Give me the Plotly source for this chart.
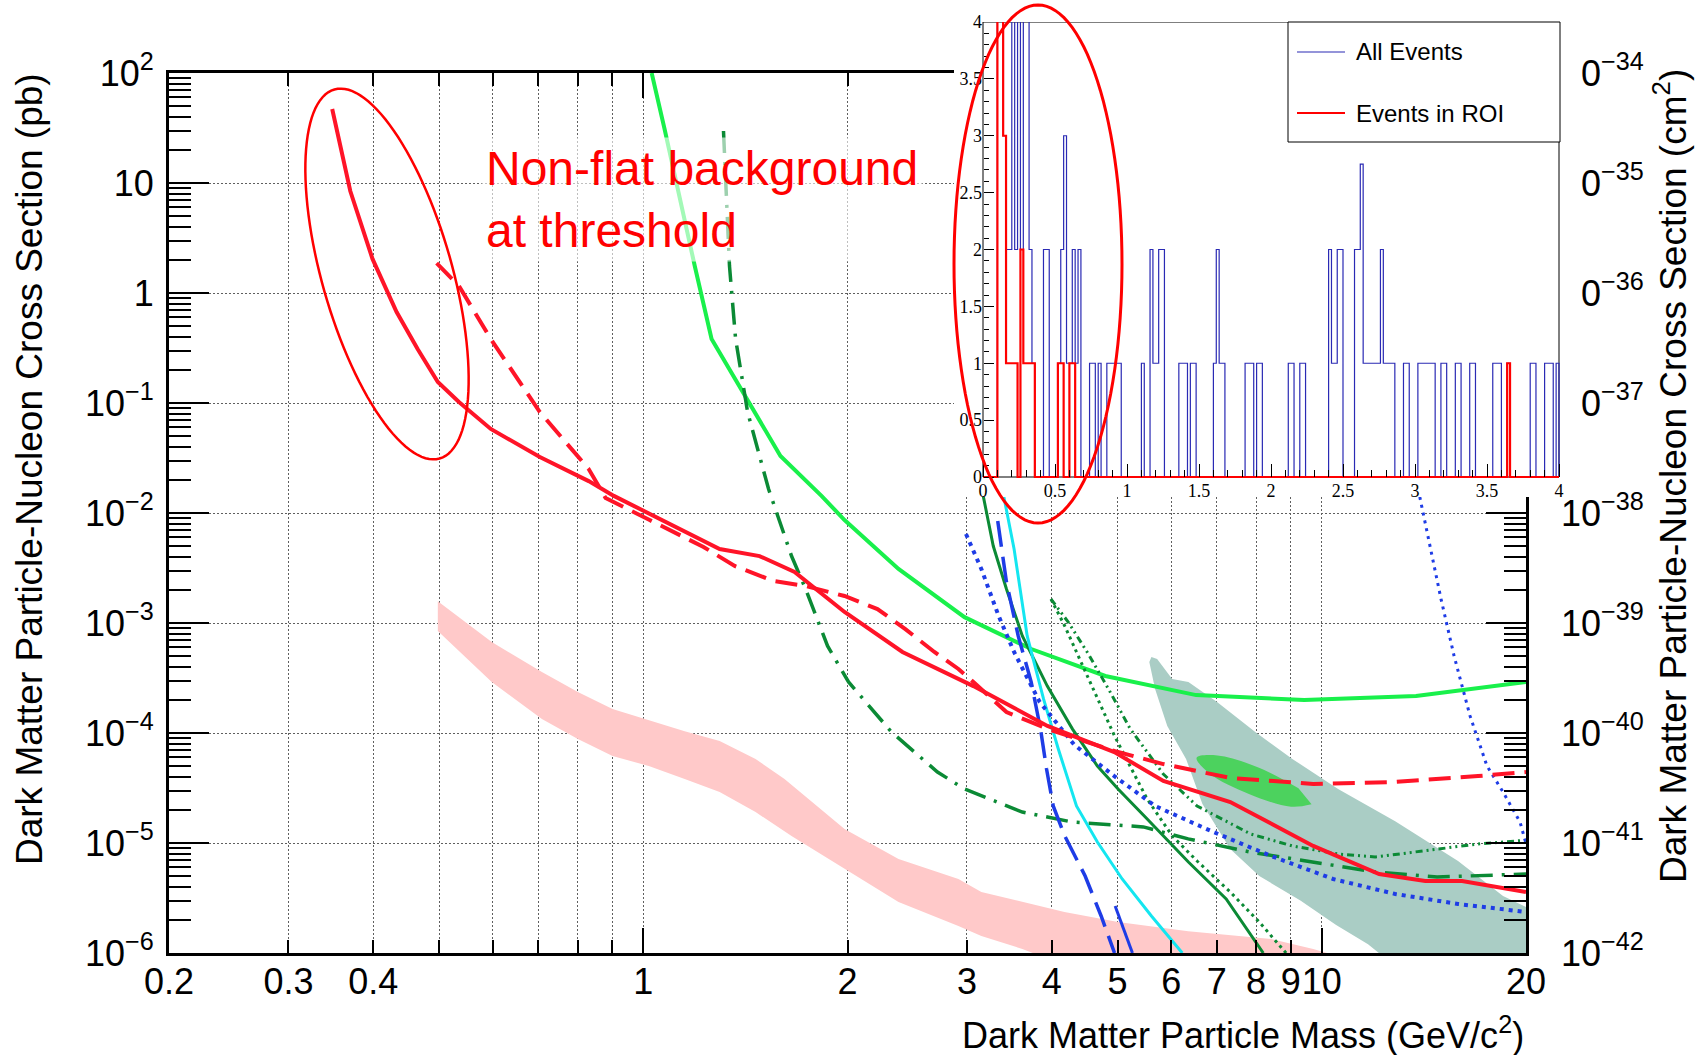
import numpy as np
import plotly.graph_objects as go

W, H = 1701, 1055
SANS = "Liberation Sans, Arial, Helvetica, sans-serif"
SERIF = "Liberation Serif, Times New Roman, serif"

# ---------------- main plot data: mass (GeV/c^2) vs cross section (pb) ----------------
red_solid_mass = [0.348, 0.370, 0.399, 0.433, 0.465, 0.498, 0.535, 0.596, 0.704, 0.831, 0.905,
                  1.296, 1.484, 1.671, 1.980, 2.410, 3.066, 3.942, 4.946, 5.842, 7.332, 9.714,
                  12.15, 14.21, 16.10, 20.0]
red_solid_xsec = [47.1, 8.45, 2.04, 0.671, 0.310, 0.155, 0.102, 0.0581, 0.0323, 0.0195, 0.0143,
                  4.71e-3, 4.06e-3, 2.91e-3, 1.26e-3, 5.45e-4, 2.67e-4, 1.16e-4, 6.71e-5, 3.66e-5,
                  2.36e-5, 9.4e-6, 5.22e-6, 4.52e-6, 4.52e-6, 3.59e-6]

red_dash_mass = [0.496, 0.535, 0.596, 0.704, 0.831, 0.880, 1.022, 1.227, 1.364, 1.556, 1.735, 1.980,
                 2.214, 2.434, 2.686, 2.914, 3.066, 3.430, 3.942, 4.946, 5.842, 7.332, 9.714, 12.83,
                 17.0, 20.0]
red_dash_xsec = [1.87, 1.16, 0.382, 0.0828, 0.0251, 0.0137, 8.63e-3, 4.91e-3, 3.3e-3, 2.41e-3, 2.17e-3,
                 1.76e-3, 1.34e-3, 8.8e-4, 5.45e-4, 3.82e-4, 2.91e-4, 1.55e-4, 1.09e-4, 6.86e-5, 5.22e-5,
                 3.9e-5, 3.44e-5, 3.59e-5, 4.06e-5, 4.42e-5]

green_mass = [1.029, 1.075, 1.191, 1.261, 1.593, 1.831, 1.980, 2.378, 2.975, 3.732, 4.797, 6.53,
              9.42, 13.77, 20.0]
green_xsec = [100.0, 31.0, 1.76, 0.382, 0.033, 0.0143, 8.63e-3, 3.1e-3, 1.13e-3, 5.8e-4, 3.3e-4,
              2.21e-4, 2.0e-4, 2.17e-4, 2.91e-4]

dkgreen_dashdot_mass = [1.313, 1.340, 1.368, 1.425, 1.530, 1.654, 1.735, 1.869, 2.007, 2.322, 2.714,
                        2.975, 3.62, 4.29, 5.458, 6.356, 7.846, 9.714, 11.99, 14.79, 20.0]
dkgreen_dashdot_xsec = [29.7, 1.76, 0.382, 0.0828, 0.0165, 4.06e-3, 2.04e-3, 6.18e-4, 2.91e-4, 1.02e-4,
                        4.42e-5, 3.1e-5, 1.91e-5, 1.55e-5, 1.40e-5, 1.09e-5, 8.28e-6, 6.72e-6, 5.45e-6,
                        4.91e-6, 5.22e-6]

dkgreen_solid_mass = [3.17, 3.28, 3.43, 3.62, 3.94, 4.29, 4.67, 5.01, 5.53, 6.36, 7.23, 8.20]
dkgreen_solid_xsec = [0.0143, 5.01e-3, 2.04e-3, 7.62e-4, 2.67e-4, 1.09e-4, 5.01e-5, 3.1e-5, 1.65e-5,
                      6.72e-6, 3.1e-6, 1.0e-6]

green_dotted_mass = [3.99, 4.18, 4.41, 4.67, 4.95, 5.29, 5.53, 6.02, 6.55, 7.33, 8.09, 8.86]
green_dotted_xsec = [1.65e-3, 9.4e-4, 4.52e-4, 2.04e-4, 9.4e-5, 4.24e-5, 2.51e-5, 1.16e-5, 6.86e-6,
                     3.59e-6, 1.91e-6, 1.0e-6]

green_dashdotdot_mass = [3.99, 4.23, 4.53, 4.85, 5.22, 5.84, 6.55, 7.85, 9.05, 10.57, 11.99, 13.77,
                         17.0, 20.0]
green_dashdotdot_xsec = [1.65e-3, 1.02e-3, 5.22e-4, 2.51e-4, 1.09e-4, 4.24e-5, 2.17e-5, 1.21e-5, 9.4e-6,
                         7.94e-6, 7.46e-6, 8.28e-6, 9.8e-6, 1.06e-5]

cyan_mass = [3.36, 3.52, 3.68, 3.89, 4.09, 4.35, 4.67, 5.08, 5.61, 6.23]
cyan_xsec = [0.0204, 4.71e-3, 7.62e-4, 2.04e-4, 7.16e-5, 2.17e-5, 1.02e-5, 4.71e-6, 2.17e-6, 1.0e-6]

blue_dash_mass = [3.33, 3.43, 3.57, 3.73, 3.85, 3.93, 4.02, 4.18, 4.48, 4.73, 4.95]
blue_dash_xsec = [8.46e-3, 2.36e-3, 7.62e-4, 2.91e-4, 1.09e-4, 4.71e-5, 2.17e-5, 1.16e-5, 5.01e-6,
                  2.17e-6, 1.0e-6]

blue_solid_mass = [4.96, 5.26]
blue_solid_xsec = [2.67e-6, 1.0e-6]

blue_dot_mass = [2.99, 3.15, 3.34, 3.52, 3.84, 4.32, 4.946, 5.68, 6.92, 8.42, 10.39, 12.83, 15.88, 20.0]
blue_dot_xsec = [6.44e-3, 3.1e-3, 1.16e-3, 5.45e-4, 1.91e-4, 7.78e-5, 4.06e-5, 2.17e-5, 1.26e-5,
                 7.62e-6, 4.71e-6, 3.44e-6, 2.79e-6, 2.36e-6]

blue_dot_hi_mass = [13.87, 14.40, 14.99, 15.67, 16.54, 17.52, 18.5, 19.6, 20.1]
blue_dot_hi_xsec = [0.0165, 5.45e-3, 1.65e-3, 5.01e-4, 1.43e-4, 5.01e-5, 2.91e-5, 1.55e-5, 8.82e-6]

pink_upper_mass = [0.498, 0.598, 0.709, 0.801, 0.901, 1.151, 1.296, 1.464, 1.615, 1.980, 2.378, 2.914,
                   3.15, 4.176, 5.01, 6.356, 8.42, 9.714, 11.5]
pink_upper_xsec = [1.58e-3, 6.71e-4, 3.59e-4, 2.36e-4, 1.65e-4, 1.04e-4, 8.46e-5, 5.81e-5, 3.82e-5,
                   1.34e-5, 7.16e-6, 4.71e-6, 3.59e-6, 2.36e-6, 1.91e-6, 1.58e-6, 1.34e-6, 1.09e-6, 8.0e-7]
pink_lower_mass = [0.498, 0.598, 0.709, 0.801, 0.901, 1.019, 1.151, 1.296, 1.464, 1.654, 1.980, 2.378,
                   2.914, 3.15, 3.62, 5.0, 11.5]
pink_lower_xsec = [8.46e-4, 2.91e-4, 1.34e-4, 8.82e-5, 6.18e-5, 5.01e-5, 3.82e-5, 2.91e-5, 1.91e-5,
                   1.16e-5, 5.81e-6, 2.91e-6, 1.76e-6, 1.43e-6, 1.09e-6, 5.0e-7, 4.0e-7]

teal_mass = [5.57, 5.61, 5.72, 6.02, 6.36, 7.01, 7.98, 9.05, 10.57, 12.83, 15.88, 18.5, 20.0, 20.0,
             12.4, 11.7, 10.5, 9.3, 8.09, 7.33, 6.67, 6.31, 5.92, 5.68]
teal_xsec = [4.42e-4, 4.91e-4, 4.71e-4, 3.1e-4, 2.91e-4, 1.91e-4, 1.02e-4, 5.81e-5, 3.1e-5, 1.58e-5,
             6.86e-6, 3.3e-6, 2.62e-6, 9.0e-7, 9.0e-7, 1.2e-6, 1.8e-6, 3.0e-6, 5.01e-6, 8.82e-6,
             2.26e-5, 5.81e-5, 1.16e-4, 2.51e-4]

blob_mass = [9.66, 9.01, 7.81, 6.84, 6.54, 7.02, 8.10, 9.24]
blob_xsec = [2.25e-5, 2.14e-5, 2.79e-5, 4.26e-5, 5.96e-5, 6.25e-5, 4.81e-5, 3.15e-5]

# axis tick labels
x_tick_values = [0.2, 0.3, 0.4, 0.5, 0.6, 0.7, 0.8, 0.9, 1, 2, 3, 4, 5, 6, 7, 8, 9, 10, 20]
x_tick_labels = ["0.2", "0.3", "0.4", "", "", "", "", "", "1", "2", "3", "4", "5", "6", "7", "8",
                 "9", "10", "20"]
y_tick_values = [1e-6, 1e-5, 1e-4, 1e-3, 1e-2, 1e-1, 1, 10, 100]
y_tick_labels = ["10<sup>\u22126</sup>", "10<sup>\u22125</sup>", "10<sup>\u22124</sup>",
                 "10<sup>\u22123</sup>", "10<sup>\u22122</sup>", "10<sup>\u22121</sup>", "1", "10",
                 "10<sup>2</sup>"]
y2_tick_values = [1e-42, 1e-41, 1e-40, 1e-39, 1e-38, 1e-37, 1e-36, 1e-35, 1e-34]
y2_tick_labels = ["10<sup>\u2212%d</sup>" % e for e in range(42, 33, -1)]

# ---------------- inset histogram data (bin width 0.02, 0..4) ----------------
hist_bin_width = 0.02
all_events = [
    0, 0, 0, 0, 0, 6, 6, 3, 2, 2, 5, 2, 5, 2, 5, 5, 2, 1, 0, 0,
    0, 2, 2, 0, 0, 0, 1, 2, 3, 1, 1, 2, 1, 2, 0, 0, 0, 1, 1, 0,
    1, 0, 0, 1, 1, 1, 1, 1, 0, 0, 0, 0, 0, 0, 0, 1, 0, 0, 2, 1,
    1, 2, 2, 0, 0, 0, 0, 0, 1, 1, 1, 0, 1, 1, 0, 0, 0, 0, 0, 0,
    1, 2, 1, 1, 0, 0, 0, 0, 0, 0, 0, 1, 1, 1, 0, 1, 1, 0, 0, 0,
    0, 0, 0, 0, 0, 0, 1, 1, 0, 0, 1, 1, 0, 0, 0, 0, 0, 0, 0, 0,
    2, 1, 1, 2, 2, 0, 0, 0, 0, 2, 2, 2.75, 1, 1, 1, 1, 1, 1, 2, 1,
    1, 1, 1, 0, 0, 0, 1, 1, 0, 0, 0, 1, 1, 1, 1, 1, 1, 0, 0, 1,
    1, 0, 0, 0, 1, 1, 0, 0, 0, 1, 1, 0, 0, 0, 0, 0, 0, 1, 1, 1,
    0, 0, 1, 0, 0, 0, 0, 0, 0, 0, 1, 1, 0, 0, 0, 1, 1, 1, 0, 1,
]
roi_events = [
    0, 0, 0, 0, 0, 6, 6, 3, 1, 1, 1, 1, 0, 2, 1, 1, 1, 1, 0, 0,
    0, 0, 0, 0, 0, 0, 1, 1, 0, 0, 1, 1, 0, 0, 0, 0, 0, 0, 0, 0,
] + [0] * 140 + [0, 0, 1, 0, 0, 0, 0, 0, 0, 0, 0, 0, 0, 0, 0, 0, 0, 0, 0, 0]
inset_tick_values = [0, 0.5, 1, 1.5, 2, 2.5, 3, 3.5, 4]
inset_tick_labels = ["0", "0.5", "1", "1.5", "2", "2.5", "3", "3.5", "4"]

# ---------------- styles ----------------
RED = "#ff1428"
GREEN = "#19f04b"
DKGREEN = "#0b8a35"
BLUE = "#1e3ce6"
CYAN = "#14e6f0"
PINK = "#ffc9c9"
TEAL = "#aacdc5"
BLOB = "#4cd25e"
HBLUE = "#2a2ab4"

fig = go.Figure()


def curve(m, s, color, width, dash="solid"):
    fig.add_trace(go.Scatter(x=m, y=s, mode="lines", line=dict(color=color, width=width, dash=dash),
                             hoverinfo="skip", showlegend=False))


# bands
fig.add_trace(go.Scatter(x=pink_upper_mass + pink_lower_mass[::-1],
                         y=pink_upper_xsec + pink_lower_xsec[::-1],
                         fill="toself", fillcolor=PINK, mode="lines", line=dict(width=0, color=PINK),
                         hoverinfo="skip", showlegend=False))
fig.add_trace(go.Scatter(x=teal_mass, y=teal_xsec, fill="toself", fillcolor=TEAL, mode="lines",
                         line=dict(width=0, color=TEAL), hoverinfo="skip", showlegend=False))
fig.add_trace(go.Scatter(x=blob_mass, y=blob_xsec, fill="toself", fillcolor=BLOB, mode="lines",
                         line=dict(width=0, color=BLOB, shape="spline"), hoverinfo="skip",
                         showlegend=False))

curve(green_mass, green_xsec, GREEN, 4)
curve(dkgreen_dashdot_mass, dkgreen_dashdot_xsec, DKGREEN, 3.5, "22px,9px,3px,9px")
curve(dkgreen_solid_mass, dkgreen_solid_xsec, DKGREEN, 3)
curve(green_dotted_mass, green_dotted_xsec, DKGREEN, 3, "3px,4px")
curve(green_dashdotdot_mass, green_dashdotdot_xsec, DKGREEN, 3, "7px,4px,2px,4px,2px,4px")
curve(cyan_mass, cyan_xsec, CYAN, 3)
curve(blue_dash_mass, blue_dash_xsec, BLUE, 3.5, "26px,10px")
curve(blue_solid_mass, blue_solid_xsec, BLUE, 3)
curve(blue_dot_mass, blue_dot_xsec, BLUE, 4, "4px,5px")
curve(blue_dot_hi_mass, blue_dot_hi_xsec, BLUE, 3, "3px,5px")
curve(red_dash_mass, red_dash_xsec, RED, 4, "22px,10px")
curve(red_solid_mass, red_solid_xsec, RED, 4)

# dummy traces to activate overlay axes
fig.add_trace(go.Scatter(x=[1], y=[1e-38], xaxis="x", yaxis="y2", mode="markers",
                         marker=dict(opacity=0), hoverinfo="skip", showlegend=False))
fig.add_trace(go.Scatter(x=[1], y=[1], xaxis="x3", yaxis="y", mode="markers",
                         marker=dict(opacity=0), hoverinfo="skip", showlegend=False))


# inset histograms
def step_xy(counts):
    xs = [0.0] + [k * hist_bin_width for k in range(len(counts))] + [4.0, 4.0]
    ys = [0] + list(counts) + [counts[-1], 0]
    return xs, ys


bx, by = step_xy(all_events)
rx, ry = step_xy(roi_events)
fig.add_trace(go.Scatter(x=bx, y=by, mode="lines", line=dict(color=HBLUE, width=1.2, shape="hv"),
                         xaxis="x4", yaxis="y4", hoverinfo="skip", showlegend=False))
fig.add_trace(go.Scatter(x=rx, y=ry, mode="lines", line=dict(color="#ff0000", width=2.2, shape="hv"),
                         xaxis="x4", yaxis="y4", hoverinfo="skip", showlegend=False))

# ---------------- geometry ----------------
X0, X1, Y0, Y1 = 169, 1526, 73, 953          # main frame (px)
IX0, IX1, IY0, IY1 = 983, 1559, 477, 22      # inset axes: value 0 and 4
CX0, CX1, CY0, CY1 = 954, 1580, 22, 497      # inset white panel
ppx = (IX1 - IX0) / 4.0
ppy = (IY0 - IY1) / 4.0


def px(x):
    return x / W


def py(y):
    return 1 - y / H


xr = [np.log10(0.2), np.log10(20)]
minor_y = [k * 10.0 ** e for e in range(-6, 2) for k in range(2, 10)]
inset_minor = [round(0.1 * k, 2) for k in range(1, 40) if k % 5 != 0]
grid = dict(showgrid=True, gridcolor="#5f5f5f", gridwidth=1.2, griddash="2px,2px")
tickfont = dict(family=SANS, size=36, color="black")

fig.update_layout(
    width=W, height=H, margin=dict(l=0, r=0, t=0, b=0, autoexpand=False),
    paper_bgcolor="white", plot_bgcolor="white", showlegend=False,
    xaxis=dict(type="log", range=xr, domain=[px(X0), px(X1)], anchor="y",
               tickmode="array", tickvals=x_tick_values, ticktext=x_tick_labels, tickangle=0,
               ticks="inside", ticklen=13, tickwidth=2, tickcolor="black",
               showline=True, linewidth=3, linecolor="black", mirror="ticks", zeroline=False,
               tickfont=tickfont, ticklabelstandoff=-5, **grid),
    xaxis3=dict(type="log", range=xr, overlaying="x", anchor="y", tickmode="array", tickvals=[1, 10],
                ticks="inside", ticklen=25, tickwidth=2, tickcolor="black", showticklabels=False,
                showgrid=False, showline=False, zeroline=False, mirror="ticks"),
    yaxis=dict(type="log", range=[-6, 2], domain=[py(Y1), py(Y0)], anchor="x",
               tickmode="array", tickvals=y_tick_values, ticktext=y_tick_labels,
               ticks="inside", ticklen=40, tickwidth=2, tickcolor="black",
               minor=dict(tickvals=minor_y, ticks="inside", ticklen=22, tickwidth=2, tickcolor="black",
                          showgrid=False),
               showline=True, linewidth=3, linecolor="black", mirror="ticks", zeroline=False,
               tickfont=tickfont, ticklabelstandoff=5, **grid),
    yaxis2=dict(type="log", range=[-42, -34], overlaying="y", side="right", anchor="x",
                tickmode="array", tickvals=y2_tick_values, ticktext=y2_tick_labels, ticks="",
                showgrid=False, showline=False, zeroline=False, tickfont=tickfont,
                ticklabelstandoff=34),
    xaxis4=dict(domain=[px(CX0), px(CX1)], range=[(CX0 - IX0) / ppx, (CX1 - IX0) / ppx],
                anchor="free", position=py(IY0), tickmode="array", tickvals=inset_tick_values,
                ticktext=inset_tick_labels, tickangle=0, ticks="inside", ticklen=13, tickwidth=1,
                tickcolor="black",
                minor=dict(tickvals=inset_minor, ticks="inside", ticklen=7, tickwidth=1,
                           tickcolor="black"),
                showline=False, showgrid=False, zeroline=False,
                tickfont=dict(family=SERIF, size=18, color="black"), ticklabelstandoff=1),
    yaxis4=dict(domain=[py(CY1), py(CY0)], range=[-(CY1 - IY0) / ppy, 4.0],
                anchor="free", position=px(IX0), tickmode="array", tickvals=inset_tick_values,
                ticktext=inset_tick_labels, ticks="inside", ticklen=10, tickwidth=1, tickcolor="black",
                minor=dict(tickvals=inset_minor, ticks="inside", ticklen=5, tickwidth=1,
                           tickcolor="black"),
                showline=False, showgrid=False, zeroline=False,
                tickfont=dict(family=SERIF, size=18, color="black"), ticklabelstandoff=1),
)


def ellipse_path(cx, cy, a, b, ux, uy, n=120):
    t = np.linspace(0, 2 * np.pi, n, endpoint=False)
    vx, vy = -uy, ux
    xs = cx + a * np.cos(t) * ux + b * np.sin(t) * vx
    ys = cy + a * np.cos(t) * uy + b * np.sin(t) * vy
    pts = ["%.5f,%.5f" % (px(x), py(y)) for x, y in zip(xs, ys)]
    return "M " + " L ".join(pts) + " Z"


shapes = [
    # inset frame
    dict(type="rect", xref="x4", yref="y4", x0=0, x1=4, y0=0, y1=4,
         line=dict(color="black", width=1), layer="between"),
    # annotation ellipses
    dict(type="path", xref="paper", yref="paper", path=ellipse_path(387, 274, 192, 65, 0.274, 0.961),
         line=dict(color="#ff0000", width=2.5), layer="above"),
    dict(type="path", xref="paper", yref="paper", path=ellipse_path(1038, 264, 259, 84, 0.0, 1.0),
         line=dict(color="#ff0000", width=3), layer="above"),
    # inset legend
    dict(type="rect", xref="paper", yref="paper", x0=px(1288), x1=px(1560), y0=py(142), y1=py(22),
         line=dict(color="black", width=1), fillcolor="white", layer="above"),
    dict(type="line", xref="paper", yref="paper", x0=px(1297), x1=px(1345), y0=py(52), y1=py(52),
         line=dict(color=HBLUE, width=1.2), layer="above"),
    dict(type="line", xref="paper", yref="paper", x0=px(1297), x1=px(1345), y0=py(113), y1=py(113),
         line=dict(color="#ff0000", width=2.2), layer="above"),
]
fig.update_layout(shapes=shapes)

ann = [
    dict(text="Dark Matter Particle-Nucleon Cross Section (pb)", x=px(29), y=py(469), textangle=-90,
         xanchor="center", yanchor="middle", font=dict(family=SANS, size=37, color="black")),
    dict(text="Dark Matter Particle-Nucleon Cross Section (cm<sup>2</sup>)", x=px(1670), y=py(476),
         textangle=-90, xanchor="center", yanchor="middle",
         font=dict(family=SANS, size=37, color="black")),
    dict(text="Dark Matter Particle Mass (GeV/c<sup>2</sup>)", x=px(1526), y=py(1033),
         xanchor="right", yanchor="middle", font=dict(family=SANS, size=36, color="black")),
    dict(text="Non-flat background<br>at threshold", x=px(481), y=py(200), xanchor="left",
         yanchor="middle", align="left", bgcolor="rgba(255,255,255,0.6)", borderpad=4,
         font=dict(family=SANS, size=48, color="#ff0000")),
    dict(text="All Events", x=px(1354), y=py(52), xanchor="left", yanchor="middle",
         font=dict(family=SANS, size=24, color="black")),
    dict(text="Events in ROI", x=px(1354), y=py(113), xanchor="left", yanchor="middle",
         font=dict(family=SANS, size=24, color="black")),
]
for a in ann:
    a.update(xref="paper", yref="paper", showarrow=False)
fig.update_layout(annotations=ann)

fig.write_html("out.html", config={"displayModeBar": False},
               post_script="document.body.style.margin='0';document.body.style.overflow='hidden';")
